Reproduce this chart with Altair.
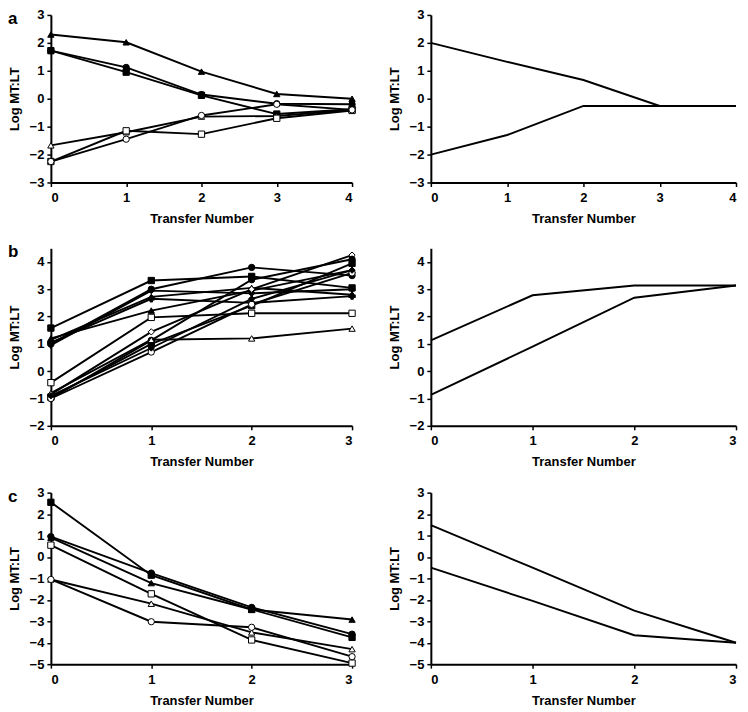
import altair as alt
import pandas as pd

FONT = "Liberation Sans"

# ---------------- Panel a (transfers 0-4) ----------------
transfer_a = [0, 1, 2, 3, 4]
a_tri_filled = [2.30, 2.02, 0.97, 0.17, 0.00]
a_cir_filled = [1.72, 1.12, 0.15, -0.18, -0.20]
a_sq_filled = [1.72, 0.95, 0.12, -0.55, -0.38]
a_tri_open = [-1.67, -1.20, -0.64, -0.62, -0.40]
a_sq_open = [-2.25, -1.15, -1.27, -0.70, -0.42]
a_cir_open = [-2.25, -1.45, -0.60, -0.20, -0.40]
a_model_upper = [2.00, 1.32, 0.67, -0.26, -0.26]
a_model_lower = [-2.00, -1.30, -0.26, -0.26, -0.26]

# ---------------- Panel b (transfers 0-3) ----------------
transfer_b = [0, 1, 2, 3]
b_sq_filled = [1.58, 3.32, 3.47, 3.05]
b_cir_filled = [1.00, 3.00, 3.80, 3.50]
b_dia_filled = [0.95, 2.95, 2.85, 3.00]
b_tri_filled = [1.15, 2.72, 3.05, 2.80]
b_cross = [1.05, 2.65, 2.50, 2.75]
b_tri_filled2 = [1.20, 2.22, 2.95, 3.70]
b_sq_open = [-0.42, 1.97, 2.12, 2.12]
b_dia_open = [-0.85, 1.44, 3.00, 4.25]
b_cir_filled2 = [-1.00, 1.13, 3.35, 4.10]
b_sq_filled2 = [-0.95, 1.00, 2.40, 3.95]
b_tri_open = [-0.80, 1.15, 1.20, 1.56]
b_cir_open = [-1.00, 0.70, 2.45, 3.60]
b_dia_filled2 = [-0.90, 0.85, 2.65, 3.70]
b_model_upper = [1.13, 2.78, 3.14, 3.14]
b_model_lower = [-0.87, 0.90, 2.69, 3.14]

# ---------------- Panel c (transfers 0-3) ----------------
transfer_c = [0, 1, 2, 3]
c_sq_filled = [2.55, -0.85, -2.45, -3.75]
c_cir_filled = [0.95, -0.75, -2.35, -3.60]
c_tri_filled = [0.90, -1.22, -2.45, -2.92]
c_sq_open = [0.55, -1.72, -3.87, -4.95]
c_tri_open = [-1.05, -2.18, -3.52, -4.30]
c_cir_open = [-1.05, -3.02, -3.28, -4.65]
c_model_upper = [1.48, -0.50, -2.50, -4.00]
c_model_lower = [-0.50, -2.05, -3.65, -4.00]

panel_letters = ["a", "b", "c"]
x_title = "Transfer Number"
y_title = "Log MT:LT"


def long_df(xs, specs):
    rows = []
    for name, vals, shape, fill in specs:
        for x, y in zip(xs, vals):
            rows.append({"series": name, "x": x, "y": y, "shape": shape, "fill": fill})
    return pd.DataFrame(rows)


spec_a = [
    ("tri_f", a_tri_filled, "triangle-up", "filled"),
    ("cir_f", a_cir_filled, "circle", "filled"),
    ("sq_f", a_sq_filled, "square", "filled"),
    ("tri_o", a_tri_open, "triangle-up", "open"),
    ("sq_o", a_sq_open, "square", "open"),
    ("cir_o", a_cir_open, "circle", "open"),
]
spec_b = [
    ("sq_f", b_sq_filled, "square", "filled"),
    ("cir_f", b_cir_filled, "circle", "filled"),
    ("dia_f", b_dia_filled, "diamond", "filled"),
    ("tri_f", b_tri_filled, "triangle-up", "filled"),
    ("cross", b_cross, "cross", "filled"),
    ("tri_f2", b_tri_filled2, "triangle-up", "filled"),
    ("sq_o", b_sq_open, "square", "open"),
    ("dia_o", b_dia_open, "diamond", "open"),
    ("cir_f2", b_cir_filled2, "circle", "filled"),
    ("sq_f2", b_sq_filled2, "square", "filled"),
    ("tri_o", b_tri_open, "triangle-up", "open"),
    ("cir_o", b_cir_open, "circle", "open"),
    ("dia_f2", b_dia_filled2, "diamond", "filled"),
]
spec_c = [
    ("sq_f", c_sq_filled, "square", "filled"),
    ("cir_f", c_cir_filled, "circle", "filled"),
    ("tri_f", c_tri_filled, "triangle-up", "filled"),
    ("sq_o", c_sq_open, "square", "open"),
    ("tri_o", c_tri_open, "triangle-up", "open"),
    ("cir_o", c_cir_open, "circle", "open"),
]


def axes(xmax, ymin, ymax):
    x = alt.X("x:Q", scale=alt.Scale(domain=[0, xmax], nice=False, zero=False),
              axis=alt.Axis(values=list(range(0, xmax + 1)), title=x_title, format="d"))
    y = alt.Y("y:Q", scale=alt.Scale(domain=[ymin, ymax], nice=False, zero=False),
              axis=alt.Axis(values=list(range(int(ymin), int(ymax) + 1)), title=y_title, format="d"))
    return x, y


def left_panel(xs, specs, xmax, ymin, ymax, letter, w, h):
    df = long_df(xs, specs)
    x, y = axes(xmax, ymin, ymax)
    base = alt.Chart(df)
    lines = base.mark_line(color="black", strokeWidth=1.9).encode(x=x, y=y, detail="series:N")
    pts = base.mark_point(filled=True, stroke="black", strokeWidth=1, size=40, opacity=1).encode(
        x=x, y=y,
        shape=alt.Shape("shape:N", scale=None),
        fill=alt.Fill("fill:N", scale=alt.Scale(domain=["filled", "open"], range=["black", "white"]), legend=None),
        detail="series:N",
    )
    lab = alt.Chart(pd.DataFrame({"t": [letter]})).mark_text(
        font=FONT, fontSize=17, fontWeight="bold", align="left", baseline="top", color="black"
    ).encode(text="t:N", x=alt.value(-43), y=alt.value(-4))
    return alt.layer(lines, pts, lab).properties(width=w, height=h)


def right_panel(xs, upper, lower, xmax, ymin, ymax, w, h):
    df = long_df(xs, [("upper", upper, "", ""), ("lower", lower, "", "")])
    x, y = axes(xmax, ymin, ymax)
    return alt.Chart(df).mark_line(color="black", strokeWidth=1.9).encode(
        x=x, y=y, detail="series:N"
    ).properties(width=w, height=h)


LW, RW = 302, 306
row_a = alt.hconcat(
    left_panel(transfer_a, spec_a, 4, -3, 3, panel_letters[0], LW, 168),
    right_panel(transfer_a, a_model_upper, a_model_lower, 4, -3, 3, RW, 168),
    spacing=30,
)
row_b = alt.hconcat(
    left_panel(transfer_b, spec_b, 3, -2, 4.5, panel_letters[1], LW, 178),
    right_panel(transfer_b, b_model_upper, b_model_lower, 3, -2, 4.5, RW, 178),
    spacing=30,
)
row_c = alt.hconcat(
    left_panel(transfer_c, spec_c, 3, -5, 3, panel_letters[2], LW, 172),
    right_panel(transfer_c, c_model_upper, c_model_lower, 3, -5, 3, RW, 172),
    spacing=30,
)

chart = alt.vconcat(row_a, row_b, row_c, spacing=18, padding=0).configure_view(stroke=None).configure_axis(
    labelFont=FONT, titleFont=FONT, labelFontWeight="bold", titleFontWeight="bold",
    labelFontSize=13, titleFontSize=13, labelColor="black", titleColor="black",
    domainColor="black", tickColor="black", domainWidth=2, tickWidth=1.5, tickSize=4,
    grid=False, labelPadding=3,
).configure_axisX(titlePadding=8, labelPadding=5).configure_axisY(titlePadding=8)

chart.save("out.html", embed_options={"renderer": "svg", "actions": False})
